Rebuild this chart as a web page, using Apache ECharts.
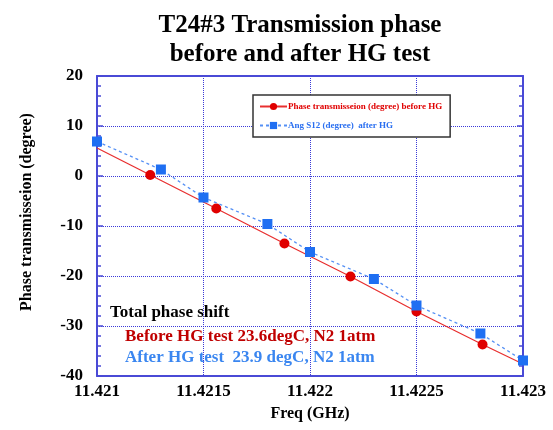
<!DOCTYPE html>
<html>
<head>
<meta charset="utf-8">
<script src="https://cdn.jsdelivr.net/npm/echarts@6/dist/echarts.min.js"></script>
<style>
  html, body { margin: 0; padding: 0; background: #fff; }
  #chart { width: 553px; height: 430px; }
</style>
</head>
<body>
<div id="chart"></div>
<script>
// before HG test (red), first and last points are the line ends, no marker
const beforeFreq = [11.421, 11.42125, 11.42156, 11.42188, 11.42219, 11.4225, 11.42281, 11.423]
const beforePhase = [5.6, 0.2, -6.5, -13.5, -20.1, -27.1, -33.7, -37.6]
// after HG test (blue)
const afterFreq = [11.421, 11.4213, 11.4215, 11.4218, 11.422, 11.4223, 11.4225, 11.4228, 11.423]
const afterPhase = [6.9, 1.3, -4.3, -9.6, -15.2, -20.6, -25.9, -31.5, -36.9]
const xTicks = ['11.421', '11.4215', '11.422', '11.4225', '11.423']
const yTicks = [-40, -30, -20, -10, 0, 10, 20]

const serif = '"Liberation Serif", "DejaVu Serif", serif'
const axisBlue = '#4a4ad6'
const gridBlue = '#3a3ad8'

const redData = beforeFreq.map((f, i) => {
  const last = beforeFreq.length - 1
  return (i === 0 || i === last)
    ? { value: [f, beforePhase[i]], symbol: 'none' }
    : [f, beforePhase[i]]
})
const blueData = afterFreq.map((f, i) => [f, afterPhase[i]])

const chart = echarts.init(document.getElementById('chart'))
const option = {
  animation: false,
  backgroundColor: '#fff',
  textStyle: { fontFamily: serif },
  title: {
    text: 'T24#3 Transmission phase\nbefore and after HG test',
    left: 295,
    textAlign: 'center',
    top: 6,
    textStyle: {
      fontFamily: serif,
      fontWeight: 'bold',
      fontSize: 25,
      lineHeight: 29,
      color: '#000'
    }
  },
  legend: {
    orient: 'vertical',
    left: 253,
    top: 95,
    padding: [7, 8, 7, 6],
    itemGap: 10,
    itemWidth: 27,
    itemHeight: 9,
    borderColor: '#333',
    borderWidth: 1.5,
    backgroundColor: '#fff',
    data: [
      { name: 'Phase transmisseion (degree) before HG', textStyle: { color: '#e00000' } },
      { name: 'Ang S12 (degree)  after HG', textStyle: { color: '#2a6ff0' } }
    ],
    textStyle: { fontFamily: serif, fontWeight: 'bold', fontSize: 9, padding: [0, 0, 0, -4] }
  },
  grid: { left: 97, right: 30, top: 76, bottom: 54 },
  xAxis: [
    {
      type: 'value',
      min: 11.421,
      max: 11.423,
      interval: 0.0005,
      name: 'Freq (GHz)',
      nameLocation: 'middle',
      nameGap: 30,
      nameTextStyle: { fontFamily: serif, fontWeight: 'bold', fontSize: 16, color: '#000' },
      axisLine: { onZero: false, lineStyle: { color: axisBlue, width: 2 } },
      axisTick: { show: false },
      axisLabel: {
        margin: 7,
        fontFamily: serif,
        fontWeight: 'bold',
        fontSize: 17,
        color: '#000',
        formatter: v => xTicks.find(t => Math.abs(+t - v) < 1e-7) || ''
      },
      splitLine: { show: true, lineStyle: { color: gridBlue, type: 'dotted', width: 1 } }
    },
    {
      type: 'value',
      position: 'top',
      min: 11.421,
      max: 11.423,
      interval: 0.0005,
      axisLine: { show: true, onZero: false, lineStyle: { color: axisBlue, width: 2 } },
      axisTick: { show: false },
      axisLabel: { show: false },
      splitLine: { show: false }
    }
  ],
  yAxis: [
    {
      type: 'value',
      min: yTicks[0],
      max: yTicks[yTicks.length - 1],
      interval: 10,
      name: 'Phase transmisseion (degree)',
      nameLocation: 'middle',
      nameGap: 62,
      nameTextStyle: { fontFamily: serif, fontWeight: 'bold', fontSize: 16, color: '#000', padding: [0, 0, 0, 28] },
      axisLine: { show: true, onZero: false, lineStyle: { color: axisBlue, width: 2 } },
      axisTick: { show: true, inside: true, length: 6, lineStyle: { color: axisBlue, width: 1.5 } },
      minorTick: { show: true, splitNumber: 5, length: 4, lineStyle: { color: axisBlue, width: 1.5 } },
      axisLabel: { margin: 14, fontFamily: serif, fontWeight: 'bold', fontSize: 17, color: '#000' },
      splitLine: { show: true, lineStyle: { color: gridBlue, type: 'dotted', width: 1 } }
    },
    {
      type: 'value',
      position: 'right',
      min: yTicks[0],
      max: yTicks[yTicks.length - 1],
      interval: 10,
      axisLine: { show: true, onZero: false, lineStyle: { color: axisBlue, width: 2 } },
      axisTick: { show: true, inside: true, length: 6, lineStyle: { color: axisBlue, width: 1.5 } },
      minorTick: { show: true, splitNumber: 5, length: 4, lineStyle: { color: axisBlue, width: 1.5 } },
      axisLabel: { show: false },
      splitLine: { show: false }
    }
  ],
  series: [
    {
      name: 'Phase transmisseion (degree) before HG',
      type: 'line',
      data: redData,
      symbol: 'circle',
      symbolSize: 10,
      showAllSymbol: true,
      itemStyle: { color: '#e00000' },
      lineStyle: { color: '#e83030', width: 1.3 },
      z: 3
    },
    {
      name: 'Ang S12 (degree)  after HG',
      type: 'line',
      data: blueData,
      symbol: 'rect',
      symbolSize: 10,
      showAllSymbol: true,
      itemStyle: { color: '#1f6ff2' },
      lineStyle: { color: '#5590f5', width: 1.3, type: [3, 3] },
      z: 4
    }
  ],
  graphic: [
    {
      type: 'text', left: 110, top: 304,
      style: { text: 'Total phase shift', fill: '#000', font: 'bold 17px ' + serif }
    },
    {
      type: 'text', left: 125, top: 328,
      style: { text: 'Before HG test 23.6degC, N2 1atm', fill: '#c00000', font: 'bold 17px ' + serif }
    },
    {
      type: 'text', left: 125, top: 349,
      style: { text: 'After HG test  23.9 degC, N2 1atm', fill: '#3a86f0', font: 'bold 17px ' + serif }
    }
  ]
}
chart.setOption(option)
</script>
</body>
</html>
